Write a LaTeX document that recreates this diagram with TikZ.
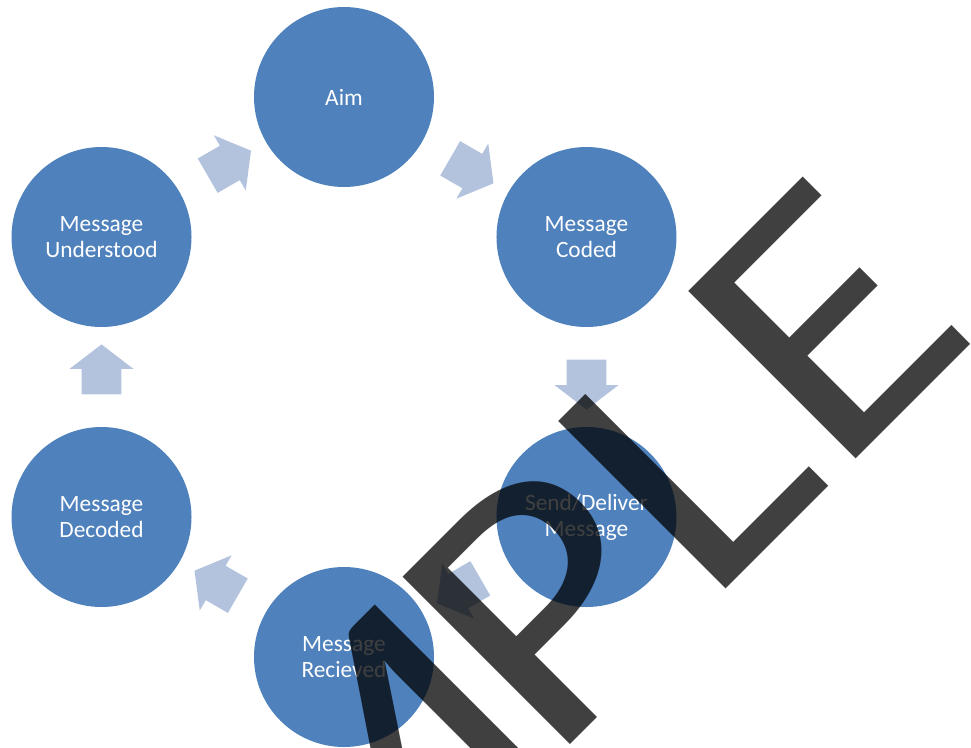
\documentclass[tikz,border=0pt]{standalone}
\usepackage{fontspec}
\setmainfont{Carlito}
\usetikzlibrary{shapes.arrows}

\definecolor{stageblue}{HTML}{4F81BD}
\definecolor{flowblue}{HTML}{B3C3DE}

\begin{document}
\begin{tikzpicture}[
    stage/.style     = {circle, fill=stageblue, text=white, minimum size=3.6cm,
                        inner sep=0pt, align=center,
                        font=\fontsize{13.3}{14.8}\selectfont},
    flow/.style      = {single arrow, fill=flowblue, minimum height=1cm,
                        minimum width=1.26cm, single arrow head extend=0.24cm,
                        single arrow tip angle=105, inner xsep=0pt,
                        inner ysep=0.39cm, sloped, allow upside down},
    watermark/.style = {text=black, text opacity=0.75, inner sep=0pt,
                        font=\fontsize{210}{210}\selectfont, rotate=45},
  ]

  % --- page frame ------------------------------------------------------------
  \useasboundingbox (-6.88,-7.40) rectangle (12.54,7.54);

  \def\ring{5.6}   % distance of every stage from the centre of the cycle

  % --- the six stages, clockwise from the top ---------------------------------
  \node[stage] (aim)        at (90:\ring)   {Aim};
  \node[stage] (coded)      at (30:\ring)   {Message\\Coded};
  \node[stage] (send)       at (-30:\ring)  {Send/Deliver\\Message};
  \node[stage] (received)   at (-90:\ring)  {Message\\Recieved};
  \node[stage] (decoded)    at (-150:\ring) {Message\\Decoded};
  \node[stage] (understood) at (150:\ring)  {Message\\Understood};

  % --- block arrows half way between neighbours -------------------------------
  \foreach \a/\b in {aim/coded, coded/send, send/received,
                     received/decoded, decoded/understood, understood/aim} {
    \path (\a) -- (\b) node[flow, midway] {};
  }

  % --- watermark over everything ---------------------------------------------
  \node[watermark, anchor=base east] (mark) at (12.79,0.91)
    {\scalebox{1.17}[1]{SAM\kern-13pt PLE}};

\end{tikzpicture}
\end{document}
